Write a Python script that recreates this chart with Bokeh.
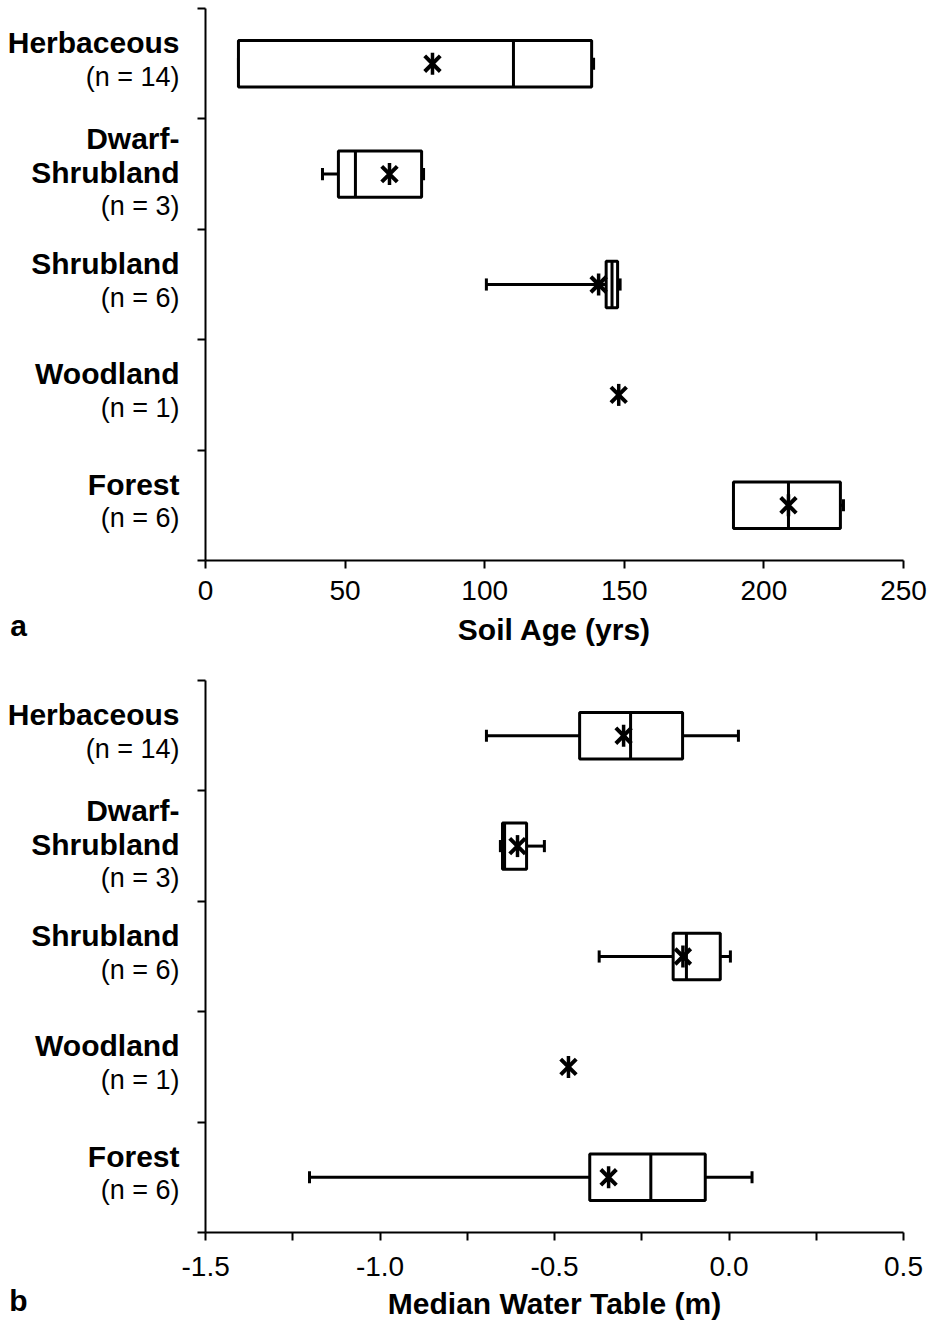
import math

from bokeh.plotting import figure
from bokeh.layouts import column, row
from bokeh.models import FixedTicker, ColumnDataSource, Range1d, LinearAxis
from bokeh.core.properties import value
from bokeh.embed import file_html
from bokeh.resources import INLINE

# ---- data -------------------------------------------------------------
category_lines = [["Herbaceous"], ["Dwarf-", "Shrubland"], ["Shrubland"], ["Woodland"], ["Forest"]]
n_obs = [14, 3, 6, 1, 6]

# soil age (yrs): whisker low, Q1, median, Q3, whisker high, mean
soil_min = [11.8, 41.9, 100.6, 148.0, 189.1]
soil_q1 = [11.8, 47.6, 143.5, 148.0, 189.1]
soil_med = [110.3, 53.7, 145.6, 148.0, 208.8]
soil_q3 = [138.3, 77.4, 147.6, 148.0, 227.4]
soil_max = [139.0, 78.1, 148.5, 148.0, 228.5]
soil_mean = [81.3, 65.9, 140.8, 148.0, 208.8]
soil_ticks = [0, 50, 100, 150, 200, 250]

# median water table (m)
wt_min = [-0.695, -0.655, -0.372, -0.460, -1.202]
wt_q1 = [-0.428, -0.649, -0.160, -0.460, -0.399]
wt_med = [-0.282, -0.643, -0.122, -0.460, -0.224]
wt_q3 = [-0.133, -0.580, -0.025, -0.460, -0.068]
wt_max = [0.027, -0.529, 0.004, -0.460, 0.066]
wt_mean = [-0.302, -0.606, -0.132, -0.460, -0.345]
wt_ticks = [-1.5, -1.0, -0.5, 0.0, 0.5]
wt_minor_ticks = [-1.25, -0.75, -0.25, 0.25]

FONT = "Liberation Sans"
FS_BOLD = "30px"
FS_NORMAL = "27px"
FS_TICK = "28px"
BOX_HALF = 0.21
CAP_HALF = 0.055
HEIGHT = 661
LABEL_W = 181       # width of the category-label column
PLOT_W = 930 - LABEL_W
FRAME_GAP = 24      # space between label column and the value axis


def label_column(border_top, border_bottom, letter, letter_standoff):
    """Category names, counts and panel letter, aligned with the panel's rows."""
    ncat = len(n_obs)
    lab = figure(width=LABEL_W, height=HEIGHT,
                 x_range=Range1d(-(LABEL_W + FRAME_GAP), -FRAME_GAP),
                 y_range=Range1d(0, ncat),
                 x_axis_type=None, y_axis_type=None,
                 min_border_left=0, min_border_right=0,
                 min_border_top=border_top, min_border_bottom=border_bottom,
                 output_backend="svg", toolbar_location=None)
    lab.grid.visible = False
    lab.outline_line_color = None
    lab.border_fill_color = "white"
    lab.background_fill_color = "white"

    spacing = 34
    rows = dict(bold=dict(y=[], t=[], dy=[]), normal=dict(y=[], t=[], dy=[]))
    for i in range(ncat):
        ycat = ncat - 0.5 - i
        lines = [(t, "bold") for t in category_lines[i]] + [("(n = %d)" % n_obs[i], "normal")]
        k = len(lines)
        shift = -2 if k == 3 else -4
        for j, (txt, style) in enumerate(lines):
            r = rows[style]
            r["y"].append(ycat)
            r["t"].append(txt)
            r["dy"].append((j - (k - 1) / 2) * spacing + shift)
    for style, r in rows.items():
        src = ColumnDataSource(dict(x=[-26] * len(r["t"]), y=r["y"], t=r["t"], dy=r["dy"]))
        lab.text(x="x", y="y", text="t", y_offset="dy", source=src,
                 text_align="right", text_baseline="middle",
                 text_font=value(FONT),
                 text_font_size=value(FS_BOLD if style == "bold" else FS_NORMAL),
                 text_font_style=value(style), text_color="black")

    # panel letter, set as the single label of an otherwise invisible axis
    letter_x = -187
    ax = LinearAxis(ticker=FixedTicker(ticks=[letter_x]),
                    major_label_overrides={letter_x: letter},
                    axis_line_color=None, major_tick_line_color=None,
                    minor_tick_line_color=None, major_tick_out=0, major_tick_in=0,
                    major_label_standoff=letter_standoff,
                    major_label_text_font=FONT, major_label_text_font_size=FS_BOLD,
                    major_label_text_font_style="bold", major_label_text_color="black")
    lab.add_layout(ax, "below")
    return lab


def panel(xlo, xhi, lo, q1, med, q3, hi, mean, ticks, minor, xlabel, fmt,
          border_top, border_bottom, lab_standoff, title_standoff):
    p = figure(width=PLOT_W, height=HEIGHT, x_range=Range1d(xlo, xhi), y_range=Range1d(0, 5),
               output_backend="svg", toolbar_location=None,
               min_border_left=FRAME_GAP, min_border_right=27,
               min_border_top=border_top, min_border_bottom=border_bottom)
    p.grid.visible = False
    p.outline_line_color = None
    p.background_fill_color = "white"
    p.border_fill_color = "white"

    ncat = len(n_obs)
    ypos = [ncat - 0.5 - i for i in range(ncat)]
    keep = [i for i in range(ncat) if n_obs[i] > 1]

    src = ColumnDataSource(dict(
        y=[ypos[i] for i in keep],
        lo=[lo[i] for i in keep], q1=[q1[i] for i in keep],
        med=[med[i] for i in keep], q3=[q3[i] for i in keep],
        hi=[hi[i] for i in keep],
        top=[ypos[i] + BOX_HALF for i in keep],
        bottom=[ypos[i] - BOX_HALF for i in keep],
        ctop=[ypos[i] + CAP_HALF for i in keep],
        cbot=[ypos[i] - CAP_HALF for i in keep],
    ))
    lw = 3
    # whiskers and caps
    p.segment(x0="lo", y0="y", x1="q1", y1="y", source=src, line_color="black", line_width=lw)
    p.segment(x0="q3", y0="y", x1="hi", y1="y", source=src, line_color="black", line_width=lw)
    p.segment(x0="lo", y0="cbot", x1="lo", y1="ctop", source=src, line_color="black", line_width=lw)
    p.segment(x0="hi", y0="cbot", x1="hi", y1="ctop", source=src, line_color="black", line_width=lw)
    # boxes and medians
    p.quad(left="q1", right="q3", bottom="bottom", top="top", source=src,
           fill_color="white", line_color="black", line_width=lw)
    p.segment(x0="med", y0="bottom", x1="med", y1="top", source=src, line_color="black", line_width=lw)
    # means
    msrc = ColumnDataSource(dict(x=mean, y=ypos))
    p.scatter("x", "y", source=msrc, marker="x", size=22, line_color="black", line_width=4)
    p.scatter("x", "y", source=msrc, marker="dash", angle=math.pi / 2, size=22,
              line_color="black", line_width=3.5)

    # axes
    xa = p.xaxis[0]
    xa.ticker = FixedTicker(ticks=ticks, minor_ticks=minor)
    xa.major_label_overrides = {t: fmt(t) for t in ticks}
    xa.axis_line_width = 2
    xa.major_tick_line_width = 2
    xa.minor_tick_line_width = 2
    xa.major_tick_out = 8
    xa.major_tick_in = 0
    xa.minor_tick_out = 8
    xa.minor_tick_in = 0
    xa.major_label_standoff = lab_standoff
    xa.major_label_text_font = FONT
    xa.major_label_text_font_size = FS_TICK
    xa.major_label_text_color = "black"
    xa.axis_label = xlabel
    xa.axis_label_text_font = FONT
    xa.axis_label_text_font_size = FS_BOLD
    xa.axis_label_text_font_style = "bold"
    xa.axis_label_text_color = "black"
    xa.axis_label_standoff = title_standoff

    ya = p.yaxis[0]
    ya.ticker = FixedTicker(ticks=[0, 1, 2, 3, 4, 5])
    ya.axis_line_width = 2
    ya.major_tick_line_width = 2
    ya.major_tick_out = 8
    ya.major_tick_in = 0
    ya.minor_tick_out = 0
    ya.minor_tick_in = 0
    ya.major_label_overrides = {t: "" for t in range(6)}
    return p


p1 = panel(0, 250, soil_min, soil_q1, soil_med, soil_q3, soil_max, soil_mean,
           soil_ticks, [], "Soil Age (yrs)", lambda t: "%d" % t, 8, 101, 12, 10)
p2 = panel(-1.5, 0.5, wt_min, wt_q1, wt_med, wt_q3, wt_max, wt_mean,
           wt_ticks, wt_minor_ticks, "Median Water Table (m)", lambda t: "%.1f" % t, 19, 90, 16, 8)
l1 = label_column(8, 101, "a", 48)
l2 = label_column(19, 90, "b", 51)

layout = column(row(l1, p1, spacing=0), row(l2, p2, spacing=0), spacing=0)
open("out.html", "w").write(file_html(layout, INLINE))
